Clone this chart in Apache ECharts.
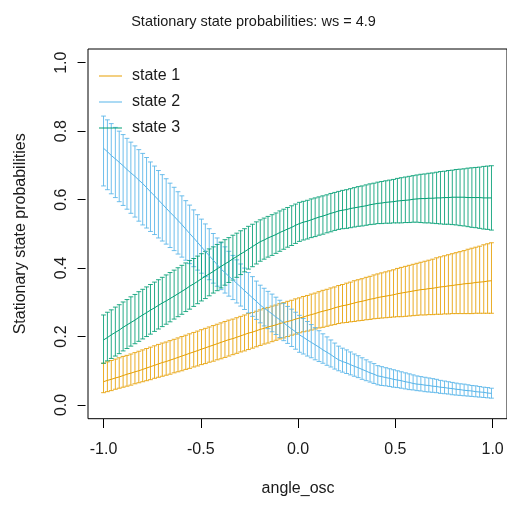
<!DOCTYPE html>
<html>
<head>
<meta charset="utf-8">
<script src="https://cdn.jsdelivr.net/npm/echarts@6/dist/echarts.min.js"></script>
<style>
html,body{margin:0;padding:0;background:#fff;}
#chart{width:507px;height:505px;}
</style>
</head>
<body>
<div id="chart"></div>
<script>
const chartTitle = 'Stationary state probabilities: ws = 4.9';
const xName = 'angle_osc';
const yName = 'Stationary state probabilities';
const seriesNames = ['state 1', 'state 2', 'state 3'];
const seriesColors = ['#E69F00', '#56B4E9', '#009E73'];
const xTickValues = [-1, -0.5, 0, 0.5, 1];
const xTickLabels = ['-1.0', '-0.5', '0.0', '0.5', '1.0'];
const yTickValues = [0, 0.2, 0.4, 0.6, 0.8, 1];
const yTickLabels = ['0.0', '0.2', '0.4', '0.6', '0.8', '1.0'];

const xValues = [-1.000,-0.980,-0.960,-0.939,-0.919,-0.899,-0.879,-0.859,-0.838,-0.818,
-0.798,-0.778,-0.758,-0.737,-0.717,-0.697,-0.677,-0.657,-0.636,-0.616,
-0.596,-0.576,-0.556,-0.535,-0.515,-0.495,-0.475,-0.455,-0.434,-0.414,
-0.394,-0.374,-0.354,-0.333,-0.313,-0.293,-0.273,-0.253,-0.232,-0.212,
-0.192,-0.172,-0.152,-0.131,-0.111,-0.091,-0.071,-0.051,-0.030,-0.010,
0.010,0.030,0.051,0.071,0.091,0.111,0.131,0.152,0.172,0.192,
0.212,0.232,0.253,0.273,0.293,0.313,0.333,0.354,0.374,0.394,
0.414,0.434,0.455,0.475,0.495,0.515,0.535,0.556,0.576,0.596,
0.616,0.636,0.657,0.677,0.697,0.717,0.737,0.758,0.778,0.798,
0.818,0.838,0.859,0.879,0.899,0.919,0.939,0.960,0.980,1.000];

const state1Mean = [.068,.072,.075,.079,.082,.086,.090,.093,.097,.100,
.104,.108,.112,.116,.120,.124,.127,.131,.135,.139,
.143,.147,.151,.155,.159,.163,.167,.171,.175,.179,
.183,.187,.191,.194,.198,.202,.206,.210,.213,.217,
.221,.224,.228,.231,.234,.238,.241,.244,.247,.251,
.254,.257,.261,.264,.267,.271,.274,.277,.280,.284,
.287,.290,.292,.295,.298,.301,.303,.306,.309,.311,
.314,.316,.318,.320,.322,.325,.327,.329,.331,.333,
.335,.337,.338,.340,.341,.343,.345,.346,.348,.349,
.351,.352,.354,.355,.356,.358,.359,.360,.362,.363];
const state1Upper = [.122,.126,.130,.134,.138,.142,.145,.149,.153,.157,
.161,.165,.169,.173,.177,.181,.184,.188,.192,.196,
.200,.204,.208,.212,.216,.220,.224,.228,.232,.236,
.240,.244,.248,.251,.255,.259,.263,.267,.270,.274,
.278,.282,.285,.289,.292,.296,.299,.303,.306,.310,
.313,.317,.320,.324,.327,.331,.335,.338,.342,.345,
.349,.352,.356,.359,.363,.366,.369,.373,.376,.380,
.383,.386,.389,.392,.395,.399,.402,.405,.408,.411,
.414,.417,.420,.423,.426,.430,.433,.436,.439,.442,
.445,.448,.451,.455,.458,.461,.464,.468,.471,.474];
const state1Lower = [.036,.039,.042,.046,.049,.052,.055,.058,.062,.065,
.068,.071,.074,.078,.081,.084,.087,.090,.094,.097,
.100,.104,.107,.111,.114,.118,.121,.125,.128,.132,
.135,.139,.143,.147,.151,.155,.158,.162,.166,.170,
.174,.178,.181,.185,.189,.193,.196,.200,.204,.207,
.211,.214,.216,.219,.222,.225,.227,.230,.233,.235,
.238,.240,.241,.243,.244,.246,.247,.249,.250,.252,
.253,.254,.255,.256,.257,.258,.258,.259,.260,.261,
.262,.263,.263,.264,.264,.265,.265,.266,.266,.267,
.267,.267,.267,.267,.267,.268,.268,.268,.268,.268];

const state2Mean = [.750,.740,.729,.719,.709,.699,.688,.678,.668,.657,
.647,.635,.623,.611,.599,.587,.575,.563,.551,.539,
.527,.514,.501,.488,.475,.462,.449,.436,.423,.410,
.397,.387,.376,.366,.355,.345,.334,.324,.313,.303,
.292,.283,.275,.266,.257,.249,.240,.231,.222,.214,
.205,.198,.190,.183,.176,.169,.161,.154,.147,.139,
.132,.127,.123,.118,.113,.109,.104,.099,.094,.090,
.085,.083,.080,.078,.075,.073,.071,.068,.066,.063,
.061,.060,.058,.057,.055,.054,.052,.051,.049,.048,
.046,.045,.043,.042,.041,.039,.038,.037,.035,.034];
const state2Upper = [.844,.833,.822,.811,.800,.790,.779,.768,.757,.746,
.735,.723,.710,.698,.685,.673,.661,.648,.636,.623,
.611,.597,.584,.570,.556,.543,.529,.515,.501,.488,
.474,.462,.449,.437,.424,.412,.400,.387,.375,.362,
.350,.341,.332,.324,.315,.306,.297,.288,.280,.271,
.262,.253,.244,.235,.226,.217,.208,.199,.190,.181,
.172,.166,.161,.155,.149,.144,.138,.132,.126,.121,
.115,.112,.109,.106,.103,.100,.097,.094,.091,.088,
.085,.083,.081,.079,.077,.075,.072,.070,.068,.066,
.064,.062,.061,.059,.057,.056,.054,.052,.051,.049];
const state2Lower = [.640,.629,.617,.606,.594,.583,.572,.560,.549,.537,
.526,.517,.507,.498,.488,.479,.470,.460,.451,.441,
.432,.423,.413,.404,.394,.385,.375,.366,.356,.347,
.337,.327,.318,.308,.298,.289,.279,.269,.259,.250,
.240,.231,.223,.214,.206,.197,.188,.180,.171,.163,
.154,.149,.143,.138,.132,.127,.122,.116,.111,.105,
.100,.096,.092,.088,.084,.080,.075,.071,.067,.063,
.059,.057,.056,.054,.052,.051,.049,.047,.045,.044,
.042,.041,.039,.038,.037,.036,.034,.033,.032,.030,
.029,.028,.027,.026,.025,.024,.023,.022,.021,.020];

const state3Mean = [.190,.197,.205,.212,.219,.227,.234,.241,.248,.256,
.263,.270,.277,.284,.291,.298,.304,.311,.318,.325,
.332,.339,.347,.354,.361,.369,.376,.383,.390,.398,
.405,.412,.419,.427,.434,.441,.448,.455,.463,.470,
.477,.482,.488,.493,.498,.504,.509,.514,.519,.525,
.530,.534,.537,.541,.545,.549,.552,.556,.560,.563,
.567,.569,.571,.574,.576,.578,.580,.582,.585,.587,
.589,.590,.592,.593,.594,.596,.597,.598,.599,.601,
.602,.603,.603,.604,.604,.605,.605,.606,.606,.607,
.607,.607,.607,.606,.606,.606,.606,.605,.605,.605];
const state3Upper = [.263,.271,.278,.286,.293,.301,.308,.316,.323,.331,
.338,.345,.352,.359,.366,.373,.380,.387,.394,.401,
.408,.415,.422,.428,.435,.442,.449,.456,.462,.469,
.476,.483,.489,.496,.502,.509,.515,.522,.528,.535,
.541,.546,.551,.556,.561,.567,.572,.577,.582,.587,
.592,.595,.598,.602,.605,.608,.611,.614,.618,.621,
.624,.627,.629,.632,.635,.638,.640,.643,.646,.648,
.651,.653,.655,.657,.659,.662,.664,.666,.668,.670,
.672,.674,.675,.677,.678,.680,.682,.683,.685,.686,
.688,.689,.690,.692,.693,.694,.695,.697,.698,.699];
const state3Lower = [.122,.129,.136,.143,.150,.158,.165,.172,.179,.186,
.193,.200,.207,.215,.222,.229,.236,.243,.251,.258,
.265,.273,.280,.288,.296,.304,.311,.319,.327,.334,
.342,.350,.358,.365,.373,.381,.389,.397,.404,.412,
.420,.426,.432,.437,.443,.449,.455,.461,.466,.472,
.478,.482,.485,.489,.492,.496,.499,.503,.506,.510,
.513,.515,.516,.518,.520,.522,.523,.525,.527,.528,
.530,.530,.531,.531,.532,.532,.532,.533,.533,.534,
.534,.533,.532,.532,.531,.530,.529,.528,.528,.527,
.526,.524,.523,.521,.519,.518,.516,.514,.513,.511];

const means = [state1Mean, state2Mean, state3Mean];
const uppers = [state1Upper, state2Upper, state3Upper];
const lowers = [state1Lower, state2Lower, state3Lower];

const FONT = '"Liberation Sans", Arial, Helvetica, sans-serif';
const TXT = '#1a1a1a';

function errorBarRender(color) {
  return function (params, api) {
    const x = api.value(0);
    const lo = api.coord([x, api.value(1)]);
    const hi = api.coord([x, api.value(2)]);
    const c = 2.4;
    const st = { stroke: color, lineWidth: 1, fill: null, opacity: 0.85 };
    return {
      type: 'group',
      children: [
        { type: 'line', shape: { x1: lo[0], y1: lo[1], x2: hi[0], y2: hi[1] }, style: st },
        { type: 'line', shape: { x1: hi[0] - c, y1: hi[1], x2: hi[0] + c, y2: hi[1] }, style: st },
        { type: 'line', shape: { x1: lo[0] - c, y1: lo[1], x2: lo[0] + c, y2: lo[1] }, style: st }
      ]
    };
  };
}

const series = [];
for (let s = 0; s < 3; s++) {
  series.push({
    type: 'custom',
    name: seriesNames[s] + ' CI',
    xAxisIndex: 0, yAxisIndex: 0,
    renderItem: errorBarRender(seriesColors[s]),
    data: xValues.map((x, i) => [x, lowers[s][i], uppers[s][i]]),
    encode: { x: 0, y: [1, 2] },
    silent: true, z: 2
  });
  series.push({
    type: 'line',
    name: seriesNames[s],
    xAxisIndex: 0, yAxisIndex: 0,
    data: xValues.map((x, i) => [x, means[s][i]]),
    symbol: 'none', showSymbol: false,
    lineStyle: { color: seriesColors[s], width: 1 },
    itemStyle: { color: seriesColors[s] },
    silent: true, z: 3
  });
}

const chart = echarts.init(document.getElementById('chart'), null, { renderer: 'canvas' });
chart.setOption({
  animation: false,
  backgroundColor: '#ffffff',
  title: {
    text: chartTitle, left: 'center', top: 9,
    textStyle: { fontFamily: FONT, fontSize: 14.5, fontWeight: 'normal', color: TXT }
  },
  legend: {
    orient: 'vertical', left: 94, top: 63, itemWidth: 23, itemHeight: 1, itemGap: 10,
    icon: 'rect',
    data: seriesNames,
    textStyle: { fontFamily: FONT, fontSize: 16, color: TXT, padding: [0, 0, 0, 5] },
    selectedMode: false
  },
  grid: [
    { left: 88, top: 49, width: 420.2, height: 369.7, show: true, borderColor: '#000', borderWidth: 1, backgroundColor: 'transparent' },
    { left: 103.56, top: 62.69, width: 389.07, height: 342.31, show: false }
  ],
  xAxis: [
    { gridIndex: 0, type: 'value', min: -1.08, max: 1.08, show: false },
    { gridIndex: 1, type: 'value', min: -1, max: 1, interval: 0.5, position: 'bottom', offset: 14,
      axisLine: { show: false, onZero: false }, splitLine: { show: false },
      axisTick: { show: true, length: 9, lineStyle: { color: '#000', width: 1 } },
      axisLabel: { margin: 23, fontFamily: FONT, fontSize: 16, color: TXT,
        formatter: v => xTickLabels[xTickValues.findIndex(t => Math.abs(t - v) < 1e-6)] },
      name: xName, nameLocation: 'middle', nameGap: 62,
      nameTextStyle: { fontFamily: FONT, fontSize: 16, color: TXT } }
  ],
  yAxis: [
    { gridIndex: 0, type: 'value', min: -0.04, max: 1.04, show: false },
    { gridIndex: 1, type: 'value', min: 0, max: 1, interval: 0.2, position: 'left', offset: 18,
      axisLine: { show: false, onZero: false }, splitLine: { show: false },
      axisTick: { show: true, length: 8, lineStyle: { color: '#000', width: 1 } },
      axisLabel: { margin: 16, rotate: 90, fontFamily: FONT, fontSize: 16, color: TXT,
        formatter: v => yTickLabels[yTickValues.findIndex(t => Math.abs(t - v) < 1e-6)] },
      name: yName, nameLocation: 'middle', nameGap: 57, nameRotate: 90,
      nameTextStyle: { fontFamily: FONT, fontSize: 16, color: TXT } }
  ],
  series: series
});
</script>
</body>
</html>
